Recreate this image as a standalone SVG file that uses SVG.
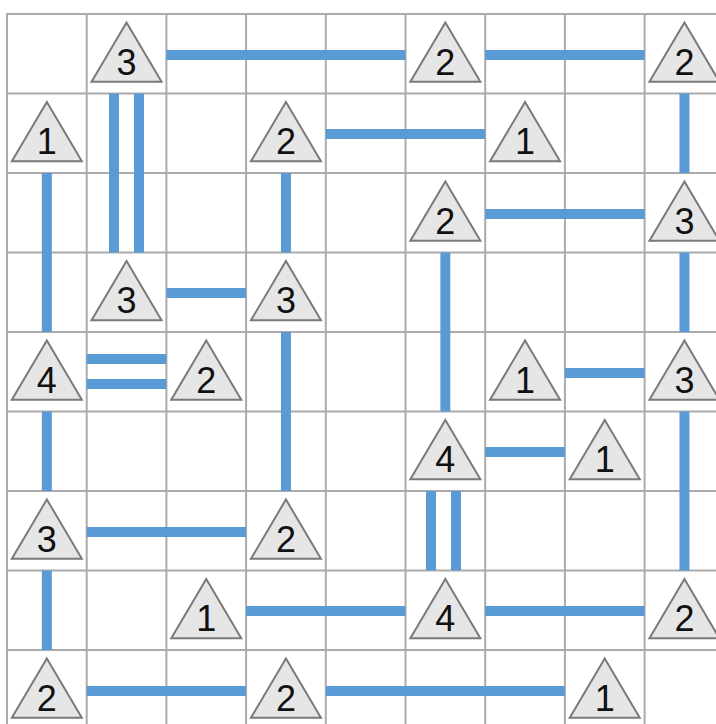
<svg xmlns="http://www.w3.org/2000/svg" width="716" height="724" viewBox="0 0 716 724">
<style>
.grid line{stroke:#ababab;stroke-width:2}
.br line{stroke:#5b9bd5;stroke-width:10}
.tri{fill:#e6e6e6;stroke:#7a7a7a;stroke-width:2;stroke-linejoin:miter}
.num{font-family:"Liberation Sans",Arial,sans-serif;font-size:36px;fill:#111;text-anchor:middle}
</style>
<defs>
<g id="isl"><polygon class="tri" points="39.85,8.5 74.85,67.8 4.85,67.8"/></g>
</defs>
<rect width="716" height="724" fill="#fff"/>
<g class="grid">
<line x1="7" y1="14" x2="7" y2="724"/>
<line x1="86.7" y1="14" x2="86.7" y2="724"/>
<line x1="166.4" y1="14" x2="166.4" y2="724"/>
<line x1="246.1" y1="14" x2="246.1" y2="724"/>
<line x1="325.8" y1="14" x2="325.8" y2="724"/>
<line x1="405.5" y1="14" x2="405.5" y2="724"/>
<line x1="485.2" y1="14" x2="485.2" y2="724"/>
<line x1="564.9" y1="14" x2="564.9" y2="724"/>
<line x1="644.6" y1="14" x2="644.6" y2="724"/>
<line x1="6" y1="14" x2="716" y2="14"/>
<line x1="6" y1="93.5" x2="716" y2="93.5"/>
<line x1="6" y1="173" x2="716" y2="173"/>
<line x1="6" y1="252.5" x2="716" y2="252.5"/>
<line x1="6" y1="332" x2="716" y2="332"/>
<line x1="6" y1="411.5" x2="716" y2="411.5"/>
<line x1="6" y1="491" x2="716" y2="491"/>
<line x1="6" y1="570.5" x2="716" y2="570.5"/>
<line x1="6" y1="650" x2="716" y2="650"/>
</g>
<g id="bridges" class="br">
<line x1="166.4" y1="55" x2="405.5" y2="55"/>
<line x1="485.2" y1="55" x2="644.6" y2="55"/>
<line x1="684.45" y1="93.5" x2="684.45" y2="173"/>
<line x1="114" y1="93.5" x2="114" y2="252.5"/>
<line x1="139" y1="93.5" x2="139" y2="252.5"/>
<line x1="46.85" y1="173" x2="46.85" y2="332"/>
<line x1="325.8" y1="134" x2="485.2" y2="134"/>
<line x1="285.95" y1="173" x2="285.95" y2="252.5"/>
<line x1="485.2" y1="214" x2="644.6" y2="214"/>
<line x1="445.35" y1="252.5" x2="445.35" y2="411.5"/>
<line x1="684.45" y1="252.5" x2="684.45" y2="332"/>
<line x1="166.4" y1="293" x2="246.1" y2="293"/>
<line x1="285.95" y1="332" x2="285.95" y2="491"/>
<line x1="86.7" y1="359" x2="166.4" y2="359"/>
<line x1="86.7" y1="384" x2="166.4" y2="384"/>
<line x1="46.85" y1="411.5" x2="46.85" y2="491"/>
<line x1="564.9" y1="373" x2="644.6" y2="373"/>
<line x1="684.45" y1="411.5" x2="684.45" y2="570.5"/>
<line x1="485.2" y1="452" x2="564.9" y2="452"/>
<line x1="431" y1="491" x2="431" y2="570.5"/>
<line x1="456" y1="491" x2="456" y2="570.5"/>
<line x1="86.7" y1="532" x2="246.1" y2="532"/>
<line x1="46.85" y1="570.5" x2="46.85" y2="650"/>
<line x1="246.1" y1="611" x2="405.5" y2="611"/>
<line x1="485.2" y1="611" x2="644.6" y2="611"/>
<line x1="86.7" y1="691" x2="246.1" y2="691"/>
<line x1="325.8" y1="691" x2="564.9" y2="691"/>
</g>
<g id="n0-1" transform="translate(86.7,14)"><use href="#isl"/><text class="num" x="39.85" y="60.5">3</text></g>
<g id="n0-5" transform="translate(405.5,14)"><use href="#isl"/><text class="num" x="39.85" y="60.5">2</text></g>
<g id="n0-8" transform="translate(644.6,14)"><use href="#isl"/><text class="num" x="39.85" y="60.5">2</text></g>
<g id="n1-0" transform="translate(7,93.5)"><use href="#isl"/><text class="num" x="39.85" y="60.5">1</text></g>
<g id="n1-3" transform="translate(246.1,93.5)"><use href="#isl"/><text class="num" x="39.85" y="60.5">2</text></g>
<g id="n1-6" transform="translate(485.2,93.5)"><use href="#isl"/><text class="num" x="39.85" y="60.5">1</text></g>
<g id="n2-5" transform="translate(405.5,173)"><use href="#isl"/><text class="num" x="39.85" y="60.5">2</text></g>
<g id="n2-8" transform="translate(644.6,173)"><use href="#isl"/><text class="num" x="39.85" y="60.5">3</text></g>
<g id="n3-1" transform="translate(86.7,252.5)"><use href="#isl"/><text class="num" x="39.85" y="60.5">3</text></g>
<g id="n3-3" transform="translate(246.1,252.5)"><use href="#isl"/><text class="num" x="39.85" y="60.5">3</text></g>
<g id="n4-0" transform="translate(7,332)"><use href="#isl"/><text class="num" x="39.85" y="60.5">4</text></g>
<g id="n4-2" transform="translate(166.4,332)"><use href="#isl"/><text class="num" x="39.85" y="60.5">2</text></g>
<g id="n4-6" transform="translate(485.2,332)"><use href="#isl"/><text class="num" x="39.85" y="60.5">1</text></g>
<g id="n4-8" transform="translate(644.6,332)"><use href="#isl"/><text class="num" x="39.85" y="60.5">3</text></g>
<g id="n5-5" transform="translate(405.5,411.5)"><use href="#isl"/><text class="num" x="39.85" y="60.5">4</text></g>
<g id="n5-7" transform="translate(564.9,411.5)"><use href="#isl"/><text class="num" x="39.85" y="60.5">1</text></g>
<g id="n6-0" transform="translate(7,491)"><use href="#isl"/><text class="num" x="39.85" y="60.5">3</text></g>
<g id="n6-3" transform="translate(246.1,491)"><use href="#isl"/><text class="num" x="39.85" y="60.5">2</text></g>
<g id="n7-2" transform="translate(166.4,570.5)"><use href="#isl"/><text class="num" x="39.85" y="60.5">1</text></g>
<g id="n7-5" transform="translate(405.5,570.5)"><use href="#isl"/><text class="num" x="39.85" y="60.5">4</text></g>
<g id="n7-8" transform="translate(644.6,570.5)"><use href="#isl"/><text class="num" x="39.85" y="60.5">2</text></g>
<g id="n8-0" transform="translate(7,650)"><use href="#isl"/><text class="num" x="39.85" y="60.5">2</text></g>
<g id="n8-3" transform="translate(246.1,650)"><use href="#isl"/><text class="num" x="39.85" y="60.5">2</text></g>
<g id="n8-7" transform="translate(564.9,650)"><use href="#isl"/><text class="num" x="39.85" y="60.5">1</text></g>
</svg>
